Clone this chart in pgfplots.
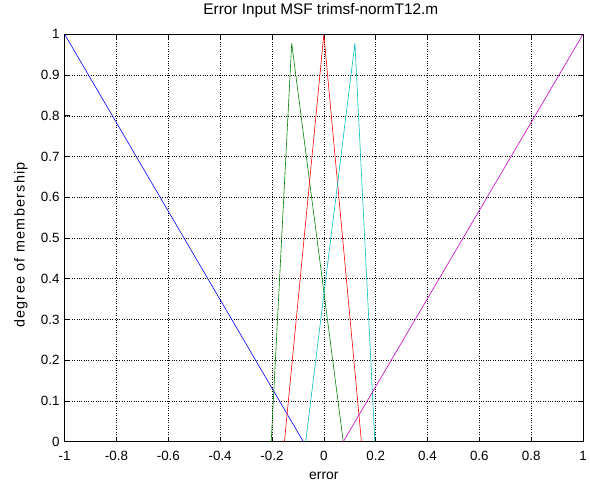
\documentclass[border=0pt]{standalone}
\usepackage{fontspec}
\setmainfont{Liberation Sans}
\newfontfamily\ylfont{Liberation Sans}[LetterSpace=9]
\usepackage{pgfplots}
\pgfplotsset{compat=1.18}
\definecolor{mgreen}{rgb}{0,0.5,0}
\definecolor{mcyan}{rgb}{0,0.75,0.75}
\definecolor{mmag}{rgb}{0.75,0,0.75}
\begin{document}
\begin{tikzpicture}
\begin{axis}[
    at={(0,0)}, anchor=south west,
    scale only axis,
    width=521bp, height=409.5bp,
    xmin=-1, xmax=1, ymin=0, ymax=1,
    xtick={-1,-0.8,...,1.01},
    xticklabels={-1,-0.8,-0.6,-0.4,-0.2,0,0.2,0.4,0.6,0.8,1},
    ytick={0,0.1,...,1.01},
    yticklabels={0,0.1,0.2,0.3,0.4,0.5,0.6,0.7,0.8,0.9,1},
    tick align=inside,
    major tick length=5bp,
    tick style={black, line width=0.6pt},
    axis line style={black, line width=0.6pt},
    grid=major,
    grid style={black, dotted, line width=0.5pt},
    tick label style={font=\fontsize{13.5}{13.5}\selectfont},
    xticklabel style={anchor=center, yshift=-14bp},
    yticklabel style={anchor=east, inner sep=0pt, xshift=-5bp},
    xlabel={error},
    ylabel={degree of membership},
    xlabel style={font=\fontsize{14}{14}\selectfont, at={(axis description cs:0.5,0)}, anchor=center, yshift=-34bp},
    ylabel style={font=\ylfont\fontsize{14.5}{14.5}\selectfont, at={(axis description cs:0,0.5)}, anchor=center, yshift=44bp, xshift=-7bp},
    title={Error Input MSF trimsf-normT12.m},
    title style={font=\fontsize{15.5}{15.5}\selectfont, at={(axis description cs:0.5,1)}, anchor=center, yshift=18bp, xshift=-3bp},
]
% negative big
\addplot[blue, line width=0.6pt] coordinates {(-1,1)(-0.079,0)};
% negative small
\addplot[mgreen, line width=0.6pt] coordinates {(-0.203,0)(-0.124,0.978)(0.075,0)};
% zero
\addplot[red, line width=0.6pt] coordinates {(-0.152,0)(0,1)(0.145,0)};
% positive small
\addplot[mcyan, line width=0.6pt] coordinates {(-0.07,0)(0.12,0.978)(0.197,0)};
% positive big
\addplot[mmag, line width=0.6pt] coordinates {(0.075,0)(1,1)};
\end{axis}
\useasboundingbox (-65bp,-41.5bp) rectangle (525bp,442.5bp);
\end{tikzpicture}
\end{document}
